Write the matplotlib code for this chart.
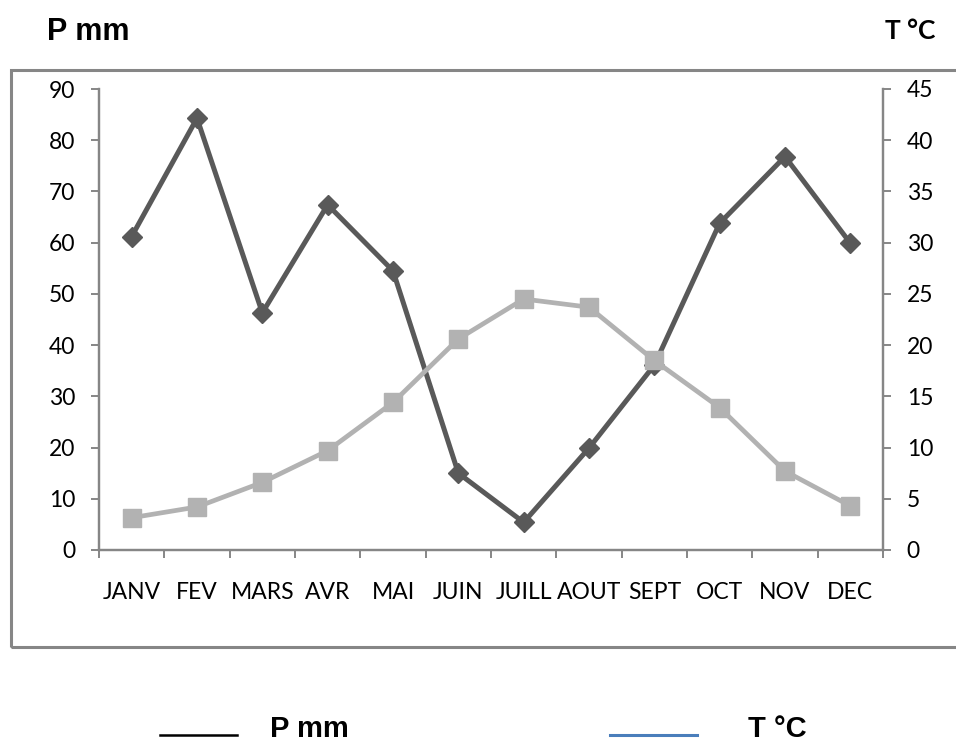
import matplotlib
matplotlib.use("Agg")
import matplotlib.pyplot as plt
from matplotlib.lines import Line2D
from matplotlib.patches import Rectangle
from matplotlib.ticker import FixedLocator, MultipleLocator, NullFormatter
import numpy as np

months = ["JANV", "FEV", "MARS", "AVR", "MAI", "JUIN",
          "JUILL", "AOUT", "SEPT", "OCT", "NOV", "DEC"]
precip_mm = [61.2, 84.3, 46.3, 67.4, 54.5, 15.0, 5.4, 19.9, 36.1, 63.8, 76.8, 59.9]
temp_c = [3.15, 4.2, 6.6, 9.7, 14.4, 20.6, 24.5, 23.7, 18.5, 13.9, 7.7, 4.3]

W, H = 956, 744
fig = plt.figure(figsize=(W / 100, H / 100), dpi=100)
fig.patch.set_facecolor("white")

def fx(px):
    return px / W

def fy(py):
    return 1 - py / H

# outer chart frame
frame = Rectangle((fx(11), fy(647)), fx(1000), fy(70) - fy(647),
                  transform=fig.transFigure, fill=False,
                  edgecolor="#868686", linewidth=2.2)
fig.patches.append(frame)

left, right, top, bottom = 99, 883, 89, 550
ax = fig.add_axes([fx(left), fy(bottom), fx(right) - fx(left), fy(top) - fy(bottom)])
ax2 = ax.twinx()

axis_col = "#868686"
tick_font = dict(family=["Lato", "DejaVu Sans"], size=16.5)

x = np.arange(len(months))

ax.plot(x, precip_mm, color="#595959", linewidth=3.6, marker="D",
        markersize=10.5, markerfacecolor="#595959", markeredgecolor="#595959",
        zorder=3)
ax2.plot(x, temp_c, color="#B2B2B2", linewidth=3.4, marker="s",
         markersize=13.5, markerfacecolor="#B2B2B2", markeredgecolor="#B2B2B2",
         zorder=3)

ax.set_xlim(-0.5, len(months) - 0.5)
ax.set_ylim(0, 90)
ax2.set_ylim(0, 45)
ax.yaxis.set_major_locator(MultipleLocator(10))
ax2.yaxis.set_major_locator(MultipleLocator(5))

# category boundaries carry tick marks, labels sit at centres
ax.xaxis.set_major_locator(FixedLocator(np.arange(-0.5, len(months), 1.0)))
ax.xaxis.set_major_formatter(NullFormatter())
ax.xaxis.set_minor_locator(FixedLocator(x))
ax.set_xticklabels(months, minor=True, fontdict=tick_font)
ax.tick_params(axis="x", which="major", direction="out", length=5.5,
               width=1.4, color=axis_col)
ax.tick_params(axis="x", which="minor", length=0, pad=23)

ax.tick_params(axis="y", direction="out", length=6, width=1.4,
               color=axis_col, pad=11, labelsize=16.5)
ax2.tick_params(axis="y", direction="out", length=6, width=1.4,
                color=axis_col, pad=11, labelsize=16.5)
for lab in ax.get_yticklabels() + ax2.get_yticklabels():
    lab.set_family(["Lato", "DejaVu Sans"])

for a in (ax, ax2):
    a.spines["top"].set_visible(False)
    for s in ("left", "right", "bottom"):
        a.spines[s].set_color(axis_col)
        a.spines[s].set_linewidth(1.6)
    a.set_facecolor("none")

# axis titles
fig.text(fx(47), fy(40), "P mm", fontsize=22, fontweight="bold",
         family=["Liberation Sans", "DejaVu Sans"], ha="left", va="baseline")
fig.text(fx(885), fy(39), "T °C", fontsize=19, fontweight="bold",
         family=["Lato", "DejaVu Sans"], ha="left", va="baseline")

# legend below the frame
fig.lines.append(Line2D([fx(160), fx(237)], [fy(735), fy(735)],
                        transform=fig.transFigure, color="black", linewidth=1.8))
fig.lines.append(Line2D([fx(610), fx(697)], [fy(735), fy(735)],
                        transform=fig.transFigure, color="#4A7EBB", linewidth=2.2))
legend_font = dict(fontsize=21, fontweight="bold",
                   family=["Liberation Sans Narrow", "Liberation Sans", "DejaVu Sans"],
                   ha="left", va="bottom")
fig.text(fx(270), fy(743), "P mm", **legend_font)
fig.text(fx(748), fy(743), "T °C", **legend_font)

fig.savefig("out.png", dpi=100, facecolor="white")
